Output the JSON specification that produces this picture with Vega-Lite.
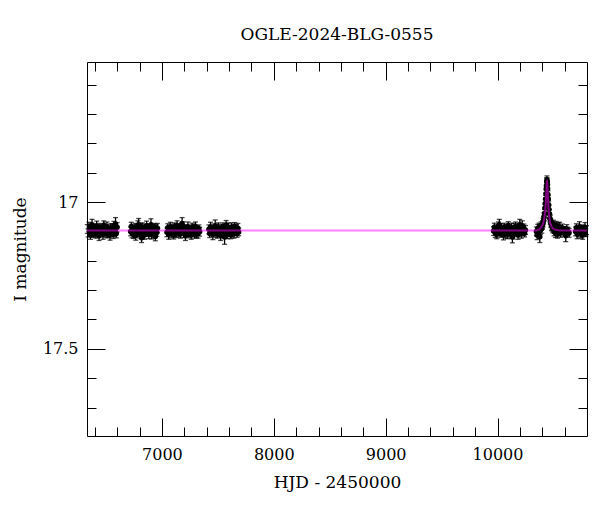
{
  "$schema": "https://vega.github.io/schema/vega-lite/v6.json",
  "autosize": {"type": "none"},
  "padding": {"left": 87, "top": 62, "right": 13, "bottom": 76},
  "width": 500,
  "height": 374,
  "background": "white",
  "title": {"text": "OGLE-2024-BLG-0555", "font": "DejaVu Serif", "fontSize": 17, "fontWeight": "normal", "color": "black", "anchor": "middle", "baseline": "alphabetic", "offset": 5},
  "config": {
    "view": {"stroke": "black", "strokeWidth": 1},
    "axis": {"labelFont": "DejaVu Serif", "titleFont": "DejaVu Serif", "labelFontSize": 16, "titleFontSize": 17, "titleFontWeight": "normal", "labelColor": "black", "titleColor": "black", "tickColor": "black", "tickWidth": 1, "domain": false, "grid": false}
  },
  "datasets": {
    "obs": [
      {"t":6333,"m":17.092,"e":0.015},{"t":6340,"m":17.105,"e":0.014},{"t":6347,"m":17.085,"e":0.016},{"t":6354,"m":17.100,"e":0.013},{"t":6361,"m":17.112,"e":0.015},{"t":6368,"m":17.095,"e":0.017},{"t":6375,"m":17.077,"e":0.018},{"t":6382,"m":17.103,"e":0.016},{"t":6389,"m":17.107,"e":0.013},{"t":6396,"m":17.089,"e":0.015},{"t":6403,"m":17.097,"e":0.015},{"t":6410,"m":17.109,"e":0.014},{"t":6417,"m":17.082,"e":0.017},{"t":6424,"m":17.101,"e":0.013},{"t":6431,"m":17.094,"e":0.015},{"t":6438,"m":17.115,"e":0.016},{"t":6445,"m":17.087,"e":0.014},{"t":6452,"m":17.104,"e":0.015},{"t":6459,"m":17.091,"e":0.013},{"t":6466,"m":17.099,"e":0.014},{"t":6473,"m":17.111,"e":0.016},{"t":6480,"m":17.079,"e":0.015},{"t":6487,"m":17.102,"e":0.014},{"t":6494,"m":17.096,"e":0.013},{"t":6501,"m":17.106,"e":0.015},{"t":6508,"m":17.084,"e":0.016},{"t":6515,"m":17.108,"e":0.014},{"t":6522,"m":17.093,"e":0.015},{"t":6529,"m":17.098,"e":0.013},{"t":6536,"m":17.113,"e":0.017},{"t":6543,"m":17.088,"e":0.014},{"t":6550,"m":17.100,"e":0.015},{"t":6557,"m":17.090,"e":0.016},{"t":6564,"m":17.110,"e":0.014},{"t":6571,"m":17.081,"e":0.015},{"t":6578,"m":17.103,"e":0.014},{"t":6585,"m":17.075,"e":0.022},{"t":6592,"m":17.107,"e":0.015},{"t":6599,"m":17.086,"e":0.016},
      {"t":6720,"m":17.100,"e":0.015},{"t":6726,"m":17.083,"e":0.014},{"t":6733,"m":17.106,"e":0.016},{"t":6740,"m":17.091,"e":0.013},{"t":6746,"m":17.109,"e":0.015},{"t":6752,"m":17.097,"e":0.017},{"t":6759,"m":17.087,"e":0.014},{"t":6766,"m":17.114,"e":0.016},{"t":6772,"m":17.094,"e":0.013},{"t":6778,"m":17.103,"e":0.015},{"t":6785,"m":17.079,"e":0.015},{"t":6792,"m":17.077,"e":0.021},{"t":6798,"m":17.096,"e":0.016},{"t":6804,"m":17.110,"e":0.013},{"t":6811,"m":17.089,"e":0.015},{"t":6818,"m":17.122,"e":0.016},{"t":6824,"m":17.085,"e":0.014},{"t":6830,"m":17.107,"e":0.016},{"t":6837,"m":17.093,"e":0.013},{"t":6844,"m":17.112,"e":0.015},{"t":6850,"m":17.090,"e":0.015},{"t":6856,"m":17.099,"e":0.014},{"t":6863,"m":17.081,"e":0.016},{"t":6870,"m":17.104,"e":0.013},{"t":6876,"m":17.095,"e":0.015},{"t":6882,"m":17.108,"e":0.017},{"t":6889,"m":17.088,"e":0.014},{"t":6896,"m":17.102,"e":0.016},{"t":6902,"m":17.077,"e":0.020},{"t":6908,"m":17.111,"e":0.015},{"t":6915,"m":17.092,"e":0.015},{"t":6922,"m":17.098,"e":0.014},{"t":6928,"m":17.106,"e":0.016},{"t":6934,"m":17.086,"e":0.013},{"t":6941,"m":17.117,"e":0.015},{"t":6948,"m":17.094,"e":0.017},{"t":6954,"m":17.103,"e":0.014},{"t":6960,"m":17.089,"e":0.016},
      {"t":7045,"m":17.103,"e":0.015},{"t":7052,"m":17.088,"e":0.014},{"t":7060,"m":17.111,"e":0.016},{"t":7068,"m":17.095,"e":0.013},{"t":7075,"m":17.084,"e":0.015},{"t":7082,"m":17.105,"e":0.017},{"t":7090,"m":17.098,"e":0.014},{"t":7098,"m":17.091,"e":0.016},{"t":7105,"m":17.113,"e":0.013},{"t":7112,"m":17.086,"e":0.015},{"t":7120,"m":17.101,"e":0.015},{"t":7128,"m":17.107,"e":0.014},{"t":7135,"m":17.080,"e":0.016},{"t":7142,"m":17.097,"e":0.013},{"t":7150,"m":17.104,"e":0.015},{"t":7158,"m":17.093,"e":0.017},{"t":7165,"m":17.109,"e":0.014},{"t":7172,"m":17.089,"e":0.016},{"t":7180,"m":17.073,"e":0.020},{"t":7188,"m":17.082,"e":0.015},{"t":7195,"m":17.106,"e":0.015},{"t":7202,"m":17.096,"e":0.014},{"t":7210,"m":17.115,"e":0.016},{"t":7218,"m":17.090,"e":0.013},{"t":7225,"m":17.102,"e":0.015},{"t":7232,"m":17.085,"e":0.017},{"t":7240,"m":17.108,"e":0.014},{"t":7248,"m":17.094,"e":0.016},{"t":7255,"m":17.099,"e":0.013},{"t":7262,"m":17.112,"e":0.015},{"t":7270,"m":17.087,"e":0.015},{"t":7278,"m":17.103,"e":0.014},{"t":7285,"m":17.092,"e":0.016},{"t":7292,"m":17.110,"e":0.013},{"t":7300,"m":17.083,"e":0.015},{"t":7308,"m":17.105,"e":0.017},{"t":7315,"m":17.095,"e":0.014},{"t":7322,"m":17.107,"e":0.016},{"t":7330,"m":17.091,"e":0.013},{"t":7337,"m":17.101,"e":0.015},
      {"t":7420,"m":17.093,"e":0.015},{"t":7427,"m":17.107,"e":0.014},{"t":7434,"m":17.085,"e":0.016},{"t":7441,"m":17.102,"e":0.013},{"t":7448,"m":17.097,"e":0.015},{"t":7455,"m":17.111,"e":0.017},{"t":7462,"m":17.089,"e":0.014},{"t":7469,"m":17.099,"e":0.016},{"t":7476,"m":17.081,"e":0.020},{"t":7483,"m":17.106,"e":0.015},{"t":7490,"m":17.094,"e":0.015},{"t":7497,"m":17.109,"e":0.014},{"t":7504,"m":17.087,"e":0.016},{"t":7511,"m":17.103,"e":0.013},{"t":7518,"m":17.096,"e":0.015},{"t":7525,"m":17.114,"e":0.017},{"t":7532,"m":17.090,"e":0.014},{"t":7539,"m":17.100,"e":0.016},{"t":7546,"m":17.084,"e":0.013},{"t":7553,"m":17.108,"e":0.015},{"t":7560,"m":17.119,"e":0.025},{"t":7567,"m":17.105,"e":0.014},{"t":7574,"m":17.079,"e":0.016},{"t":7581,"m":17.098,"e":0.013},{"t":7588,"m":17.110,"e":0.015},{"t":7595,"m":17.088,"e":0.017},{"t":7602,"m":17.101,"e":0.014},{"t":7609,"m":17.095,"e":0.016},{"t":7616,"m":17.112,"e":0.013},{"t":7623,"m":17.086,"e":0.015},{"t":7630,"m":17.104,"e":0.015},{"t":7637,"m":17.091,"e":0.014},{"t":7644,"m":17.107,"e":0.016},{"t":7651,"m":17.083,"e":0.013},{"t":7658,"m":17.099,"e":0.015},{"t":7665,"m":17.094,"e":0.017},{"t":7672,"m":17.106,"e":0.014},{"t":7679,"m":17.089,"e":0.016},{"t":7686,"m":17.102,"e":0.013},
      {"t":9965,"m":17.099,"e":0.015},{"t":9972,"m":17.086,"e":0.014},{"t":9980,"m":17.105,"e":0.016},{"t":9987,"m":17.092,"e":0.013},{"t":9994,"m":17.110,"e":0.015},{"t":10002,"m":17.096,"e":0.017},{"t":10009,"m":17.082,"e":0.014},{"t":10016,"m":17.077,"e":0.018},{"t":10023,"m":17.107,"e":0.013},{"t":10031,"m":17.089,"e":0.015},{"t":10038,"m":17.101,"e":0.015},{"t":10045,"m":17.094,"e":0.014},{"t":10053,"m":17.113,"e":0.016},{"t":10060,"m":17.085,"e":0.013},{"t":10067,"m":17.098,"e":0.015},{"t":10075,"m":17.106,"e":0.017},{"t":10082,"m":17.091,"e":0.014},{"t":10089,"m":17.109,"e":0.016},{"t":10096,"m":17.080,"e":0.013},{"t":10104,"m":17.102,"e":0.015},{"t":10111,"m":17.095,"e":0.015},{"t":10118,"m":17.108,"e":0.014},{"t":10126,"m":17.088,"e":0.016},{"t":10133,"m":17.119,"e":0.020},{"t":10140,"m":17.111,"e":0.015},{"t":10148,"m":17.090,"e":0.017},{"t":10155,"m":17.097,"e":0.014},{"t":10162,"m":17.084,"e":0.016},{"t":10169,"m":17.105,"e":0.013},{"t":10177,"m":17.093,"e":0.015},{"t":10184,"m":17.112,"e":0.015},{"t":10191,"m":17.087,"e":0.014},{"t":10199,"m":17.077,"e":0.018},{"t":10206,"m":17.096,"e":0.013},{"t":10213,"m":17.108,"e":0.015},{"t":10221,"m":17.081,"e":0.017},{"t":10228,"m":17.100,"e":0.014},{"t":10235,"m":17.091,"e":0.016},{"t":10242,"m":17.106,"e":0.013},{"t":10250,"m":17.095,"e":0.015},
      {"t":10348,"m":17.100,"e":0.015},{"t":10354,"m":17.112,"e":0.016},{"t":10360,"m":17.090,"e":0.014},{"t":10366,"m":17.104,"e":0.015},{"t":10372,"m":17.085,"e":0.013},{"t":10378,"m":17.118,"e":0.020},{"t":10384,"m":17.095,"e":0.015},{"t":10390,"m":17.082,"e":0.014},{"t":10396,"m":17.090,"e":0.016},{"t":10402,"m":17.078,"e":0.014},{"t":10407,"m":17.070,"e":0.015},{"t":10412,"m":17.062,"e":0.013},{"t":10416,"m":17.050,"e":0.014},{"t":10420,"m":17.040,"e":0.015},{"t":10424,"m":17.020,"e":0.013},{"t":10427,"m":17.005,"e":0.014},{"t":10430,"m":16.990,"e":0.013},{"t":10433,"m":16.972,"e":0.014},{"t":10436,"m":16.955,"e":0.013},{"t":10438,"m":16.945,"e":0.012},{"t":10440,"m":16.930,"e":0.013},{"t":10442,"m":16.925,"e":0.014},{"t":10444,"m":16.932,"e":0.013},{"t":10446,"m":16.940,"e":0.012},{"t":10448,"m":16.955,"e":0.014},{"t":10451,"m":16.975,"e":0.013},{"t":10454,"m":16.990,"e":0.014},{"t":10457,"m":17.010,"e":0.013},{"t":10460,"m":17.025,"e":0.015},{"t":10464,"m":17.040,"e":0.014},{"t":10468,"m":17.055,"e":0.013},{"t":10472,"m":17.060,"e":0.015},{"t":10477,"m":17.072,"e":0.014},{"t":10482,"m":17.080,"e":0.016},{"t":10488,"m":17.085,"e":0.014},{"t":10494,"m":17.090,"e":0.015},{"t":10500,"m":17.075,"e":0.013},{"t":10506,"m":17.100,"e":0.015},{"t":10512,"m":17.093,"e":0.014},{"t":10518,"m":17.105,"e":0.016},{"t":10524,"m":17.080,"e":0.014},{"t":10530,"m":17.098,"e":0.015},{"t":10536,"m":17.110,"e":0.013},{"t":10542,"m":17.085,"e":0.015},{"t":10548,"m":17.100,"e":0.014},{"t":10556,"m":17.085,"e":0.016},{"t":10564,"m":17.105,"e":0.015},{"t":10572,"m":17.095,"e":0.014},{"t":10580,"m":17.090,"e":0.015},{"t":10590,"m":17.100,"e":0.016},{"t":10600,"m":17.098,"e":0.014},{"t":10610,"m":17.115,"e":0.020},{"t":10620,"m":17.092,"e":0.015},{"t":10630,"m":17.100,"e":0.014},{"t":10640,"m":17.105,"e":0.015},
      {"t":10698,"m":17.100,"e":0.015},{"t":10705,"m":17.088,"e":0.014},{"t":10712,"m":17.109,"e":0.016},{"t":10719,"m":17.093,"e":0.013},{"t":10726,"m":17.104,"e":0.015},{"t":10733,"m":17.084,"e":0.017},{"t":10740,"m":17.097,"e":0.014},{"t":10747,"m":17.107,"e":0.016},{"t":10754,"m":17.091,"e":0.013},{"t":10761,"m":17.112,"e":0.015},{"t":10768,"m":17.095,"e":0.015},{"t":10775,"m":17.102,"e":0.014},{"t":10782,"m":17.086,"e":0.016},{"t":10789,"m":17.105,"e":0.013},{"t":10796,"m":17.096,"e":0.015}
    ],
    "model": [
      {"t":6330,"m":17.097},{"t":10340,"m":17.097},{"t":10362,"m":17.095},{"t":10380,"m":17.091},{"t":10396,"m":17.083},{"t":10408,"m":17.072},{"t":10418,"m":17.055},{"t":10426,"m":17.030},{"t":10432,"m":17.000},{"t":10437,"m":16.962},{"t":10440,"m":16.938},{"t":10442,"m":16.927},{"t":10444,"m":16.932},{"t":10447,"m":16.952},{"t":10451,"m":16.985},{"t":10456,"m":17.020},{"t":10462,"m":17.048},{"t":10470,"m":17.068},{"t":10480,"m":17.081},{"t":10494,"m":17.089},{"t":10515,"m":17.094},{"t":10550,"m":17.096},{"t":10600,"m":17.097},{"t":10800,"m":17.097}
    ]
  },
  "resolve": {"axis": {"x": "independent", "y": "independent"}},
  "layer": [
    {
      "data": {"name": "obs"},
      "mark": {"type": "errorbar", "color": "black", "thickness": 1.3, "ticks": {"size": 5, "color": "black"}},
      "encoding": {
        "x": {"field": "t", "type": "quantitative", "scale": {"domain": [6330, 10800], "nice": false, "zero": false},
              "axis": {"orient": "bottom", "values": [6400,6600,6800,7200,7400,7600,7800,8200,8400,8600,8800,9200,9400,9600,9800,10200,10400,10600], "tickSize": -9, "labels": false, "title": null}},
        "y": {"field": "m", "type": "quantitative", "scale": {"domain": [16.523, 17.797], "reverse": true, "nice": false, "zero": false},
              "axis": {"orient": "left", "values": [16.6,16.7,16.8,16.9,17.1,17.2,17.3,17.4,17.6,17.7], "tickSize": -9, "labels": false, "title": null}},
        "yError": {"field": "e"}
      }
    },
    {
      "data": {"name": "obs"},
      "mark": {"type": "circle", "color": "black", "opacity": 1, "size": 30, "clip": true},
      "encoding": {
        "x": {"field": "t", "type": "quantitative", "scale": {"domain": [6330, 10800], "nice": false, "zero": false},
              "axis": {"orient": "top", "values": [7000,8000,9000,10000], "tickSize": -18, "labels": false, "title": null}},
        "y": {"field": "m", "type": "quantitative", "scale": {"domain": [16.523, 17.797], "reverse": true, "nice": false, "zero": false},
              "axis": {"orient": "right", "values": [17, 17.5], "tickSize": -18, "labels": false, "title": null}}
      }
    },
    {
      "data": {"name": "model"},
      "mark": {"type": "line", "color": "#ff00ff", "opacity": 0.5, "strokeWidth": 2, "interpolate": "monotone", "clip": true},
      "encoding": {
        "x": {"field": "t", "type": "quantitative", "scale": {"domain": [6330, 10800], "nice": false, "zero": false},
              "axis": {"orient": "bottom", "values": [7000,8000,9000,10000], "tickSize": -18, "labels": false, "title": null}},
        "y": {"field": "m", "type": "quantitative", "scale": {"domain": [16.523, 17.797], "reverse": true, "nice": false, "zero": false},
              "axis": {"orient": "left", "values": [17, 17.5], "tickSize": -18, "labels": false, "title": null}}
      }
    },
    {
      "data": {"name": "model"},
      "mark": {"type": "point", "opacity": 0},
      "encoding": {
        "x": {"field": "t", "type": "quantitative", "scale": {"domain": [6330, 10800], "nice": false, "zero": false},
              "axis": {"orient": "top", "values": [6400,6600,6800,7200,7400,7600,7800,8200,8400,8600,8800,9200,9400,9600,9800,10200,10400,10600], "tickSize": -9, "labels": false, "title": null}},
        "y": {"field": "m", "type": "quantitative", "scale": {"domain": [16.523, 17.797], "reverse": true, "nice": false, "zero": false},
              "axis": {"orient": "right", "values": [16.6,16.7,16.8,16.9,17.1,17.2,17.3,17.4,17.6,17.7], "tickSize": -9, "labels": false, "title": null}}
      }
    },
    {
      "data": {"name": "model"},
      "mark": {"type": "point", "opacity": 0},
      "encoding": {
        "x": {"field": "t", "type": "quantitative", "scale": {"domain": [6330, 10800], "nice": false, "zero": false},
              "axis": {"orient": "bottom", "values": [7000,8000,9000,10000], "ticks": false, "format": "d", "labelPadding": 10, "labelFlush": false, "title": "HJD - 2450000", "titlePadding": 12}},
        "y": {"field": "m", "type": "quantitative", "scale": {"domain": [16.523, 17.797], "reverse": true, "nice": false, "zero": false},
              "axis": {"orient": "left", "values": [17, 17.5], "ticks": false, "format": "~g", "labelPadding": 9, "labelFlush": false, "title": "I magnitude", "titlePadding": 13}}
      }
    }
  ]
}
